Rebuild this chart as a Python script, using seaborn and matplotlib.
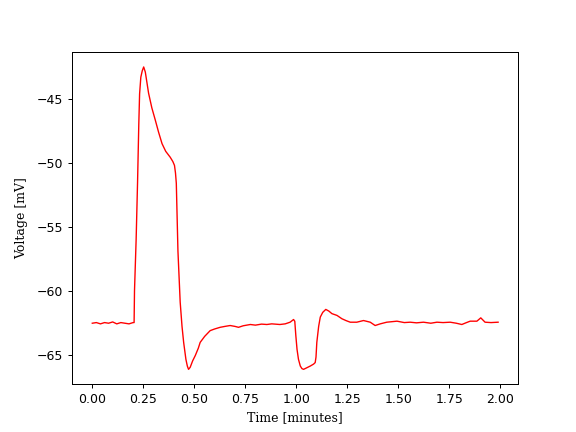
'''Membrane voltage trace plot.

Plots the recorded voltage of one cell over two minutes.
'''

# -----------------------------------------------------------------------------
# Modules

from matplotlib import pyplot as plt  # type: ignore
import pandas as pd  # type: ignore
import seaborn as sns  # type: ignore

# -----------------------------------------------------------------------------
# Data

time_min = [
    0.00, 0.02, 0.04, 0.06, 0.08, 0.10, 0.12, 0.14, 0.16, 0.18, 0.200,
    0.205, 0.207, 0.215, 0.222, 0.228, 0.232, 0.238, 0.245, 0.252, 0.260,
    0.276, 0.292, 0.309, 0.325, 0.342, 0.360, 0.382, 0.395, 0.403, 0.408,
    0.412, 0.420, 0.431, 0.440, 0.448, 0.459, 0.466, 0.472, 0.480, 0.492,
    0.505, 0.520, 0.529, 0.551, 0.578, 0.600, 0.627, 0.650, 0.676, 0.700,
    0.717, 0.740, 0.775, 0.800, 0.830, 0.856, 0.880, 0.920, 0.946, 0.970,
    0.987, 0.993, 0.998, 1.004, 1.011, 1.020, 1.028, 1.036, 1.050, 1.069,
    1.085, 1.093, 1.097, 1.101, 1.110, 1.118, 1.130, 1.145, 1.160, 1.175,
    1.200, 1.224, 1.245, 1.265, 1.297, 1.330, 1.363, 1.387, 1.412, 1.444,
    1.494, 1.530, 1.559, 1.590, 1.624, 1.660, 1.690, 1.720, 1.755, 1.785,
    1.812, 1.835, 1.853, 1.886, 1.905, 1.926, 1.955, 1.990,
]
voltage_mv = [
    -62.55, -62.50, -62.60, -62.50, -62.55, -62.45, -62.60, -62.50, -62.55,
    -62.60, -62.50,
    -62.50, -60.00, -56.00, -51.50, -47.00, -44.60, -43.30, -42.80, -42.50,
    -42.90,
    -44.55, -45.70, -46.66, -47.60, -48.50, -49.10, -49.56, -49.90, -50.20,
    -50.80,
    -51.60, -56.90, -60.90, -62.80, -64.05, -65.37, -65.90, -66.16, -66.00,
    -65.50,
    -65.08, -64.50, -64.05, -63.58, -63.13, -63.00, -62.87, -62.80, -62.73,
    -62.80,
    -62.87, -62.75, -62.65, -62.70, -62.62, -62.65, -62.60, -62.65, -62.60,
    -62.47,
    -62.26, -62.40, -63.50, -64.60, -65.37, -65.90, -66.10, -66.16, -66.05,
    -65.90,
    -65.75, -65.63, -65.20, -64.05, -62.80, -62.07, -61.70, -61.47, -61.60,
    -61.80,
    -61.94, -62.20, -62.35, -62.47, -62.47, -62.34, -62.47, -62.73, -62.60,
    -62.47,
    -62.39, -62.50, -62.47, -62.52, -62.47, -62.55, -62.47, -62.50, -62.47,
    -62.55,
    -62.65, -62.50, -62.39, -62.39, -62.13, -62.47, -62.50, -62.47,
]

# -----------------------------------------------------------------------------


def voltage_plot() -> None:
    """Plots the voltage trace and saves it as out.png.

    :return: None.
    """

    trace: pd.DataFrame = pd.DataFrame({'time': time_min,
                                        'voltage': voltage_mv})

    figure: plt.Figure = plt.figure(figsize=(6.4, 4.8), dpi=90)
    axes = figure.add_subplot(111)

    sns.lineplot(data=trace, x='time', y='voltage', ax=axes, color='red',
                 linewidth=1.1, estimator=None, sort=False)

    axes.set_xticks([0.0, 0.25, 0.5, 0.75, 1.0, 1.25, 1.5, 1.75, 2.0])
    axes.set_xticklabels([f'{tick:.2f}' for tick in axes.get_xticks()])
    axes.set_xlabel('Time [minutes]', family='DejaVu Serif')
    axes.set_ylabel('Voltage [mV]', family='DejaVu Serif', labelpad=6.5)

    figure.savefig('out.png', dpi=90)
    plt.close()

# -----------------------------------------------------------------------------


if __name__ == "__main__":
    voltage_plot()
